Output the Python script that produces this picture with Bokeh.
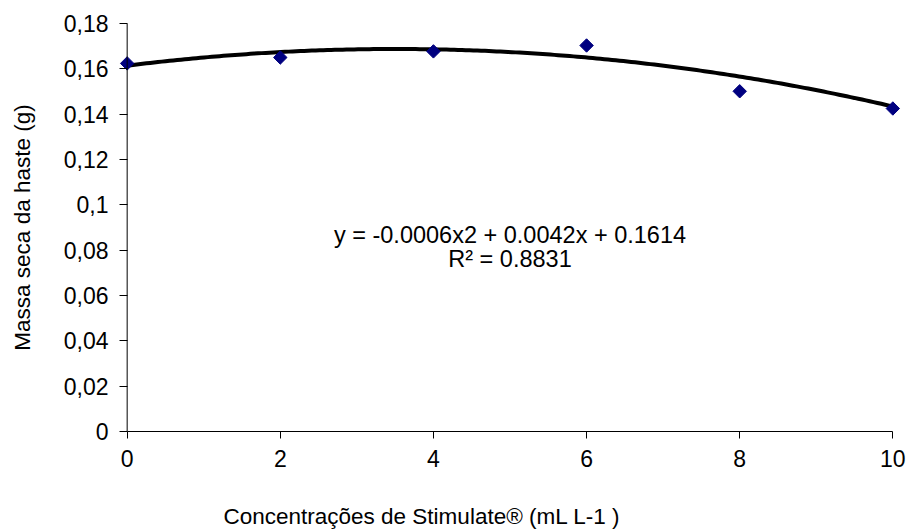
import math
import numpy as np
from bokeh.plotting import figure
from bokeh.models import FixedTicker, CustomJSTickFormatter, Label, Range1d, Title, Span
from bokeh.embed import file_html
from bokeh.resources import INLINE

# data
conc = [0, 2, 4, 6, 8, 10]
massa = [0.1624, 0.1650, 0.1677, 0.1703, 0.1501, 0.1425]
coef = [-0.0006, 0.0042, 0.1614]  # trendline y = a x^2 + b x + c
x_ticks = [0, 2, 4, 6, 8, 10]
y_ticks = [0, 0.02, 0.04, 0.06, 0.08, 0.1, 0.12, 0.14, 0.16, 0.18]
eq_text = "y = -0.0006x2 + 0.0042x + 0.1614"
r2_text = "R² = 0.8831"
x_label = "Concentrações de Stimulate® (mL L-1 )"
y_label = "Massa seca da haste (g)"

FONT = "Liberation Sans"

p = figure(width=907, height=529, output_backend="svg", toolbar_location=None,
           x_range=Range1d(-0.1, 10.1), y_range=Range1d(0, 0.18),
           min_border_left=119, min_border_right=7, min_border_top=23, min_border_bottom=98)
p.outline_line_color = None
p.xgrid.visible = False
p.ygrid.visible = False
p.background_fill_color = "white"

for ax in (p.xaxis[0], p.yaxis[0]):
    ax.axis_line_color = "black"
    ax.axis_line_width = 1
    ax.major_tick_line_color = "black"
    ax.minor_tick_line_color = None
    ax.major_label_text_font = FONT
    ax.major_label_text_font_size = "23px"
    ax.major_label_text_color = "black"

p.xaxis.ticker = FixedTicker(ticks=x_ticks)
p.yaxis.ticker = FixedTicker(ticks=y_ticks)
p.xaxis.bounds = (0, 10)
p.xaxis.major_tick_in = 0
p.xaxis.major_tick_out = 7
p.xaxis.major_label_standoff = 11

# y axis line drawn at x = 0 (span); ticks reach from the frame edge to it
p.yaxis.axis_line_color = None
p.yaxis.major_tick_in = 8
p.yaxis.major_tick_out = 0
p.yaxis.major_label_standoff = 11
p.yaxis.formatter = CustomJSTickFormatter(
    code="return String(Number(tick.toFixed(2))).replace('.', ',');")
p.add_layout(Span(location=0, dimension="height", line_color="black", line_width=1))

p.yaxis.axis_label = y_label
p.yaxis.axis_label_text_font = FONT
p.yaxis.axis_label_text_font_size = "22.5px"
p.yaxis.axis_label_text_font_style = "normal"
p.yaxis.axis_label_text_color = "black"
p.yaxis.axis_label_standoff = 26

# trendline
xs = np.linspace(min(conc), max(conc), 200)
ys = np.polyval(coef, xs)
p.line(xs, ys, line_color="black", line_width=4)

p.scatter(conc, massa, marker="square", angle=math.pi / 4, size=9.5,
          fill_color="#000080", line_color="#000080")

p.add_layout(Label(x=5, y=0.0865, text=eq_text, text_align="center", text_baseline="middle",
                   text_font=FONT, text_font_size="23.5px", text_color="black"))
p.add_layout(Label(x=5, y=0.0763, text=r2_text, text_align="center", text_baseline="middle",
                   text_font=FONT, text_font_size="23.5px", text_color="black"))

# blank spacer between the x axis and its title
p.add_layout(Title(text=" ", text_font_size="10px", standoff=19), "below")
p.add_layout(Title(text=x_label, align="left", offset=104, standoff=0,
                   text_font=FONT, text_font_size="22.5px", text_font_style="normal",
                   text_color="black"), "below")

open("out.html", "w").write(file_html(p, INLINE))
